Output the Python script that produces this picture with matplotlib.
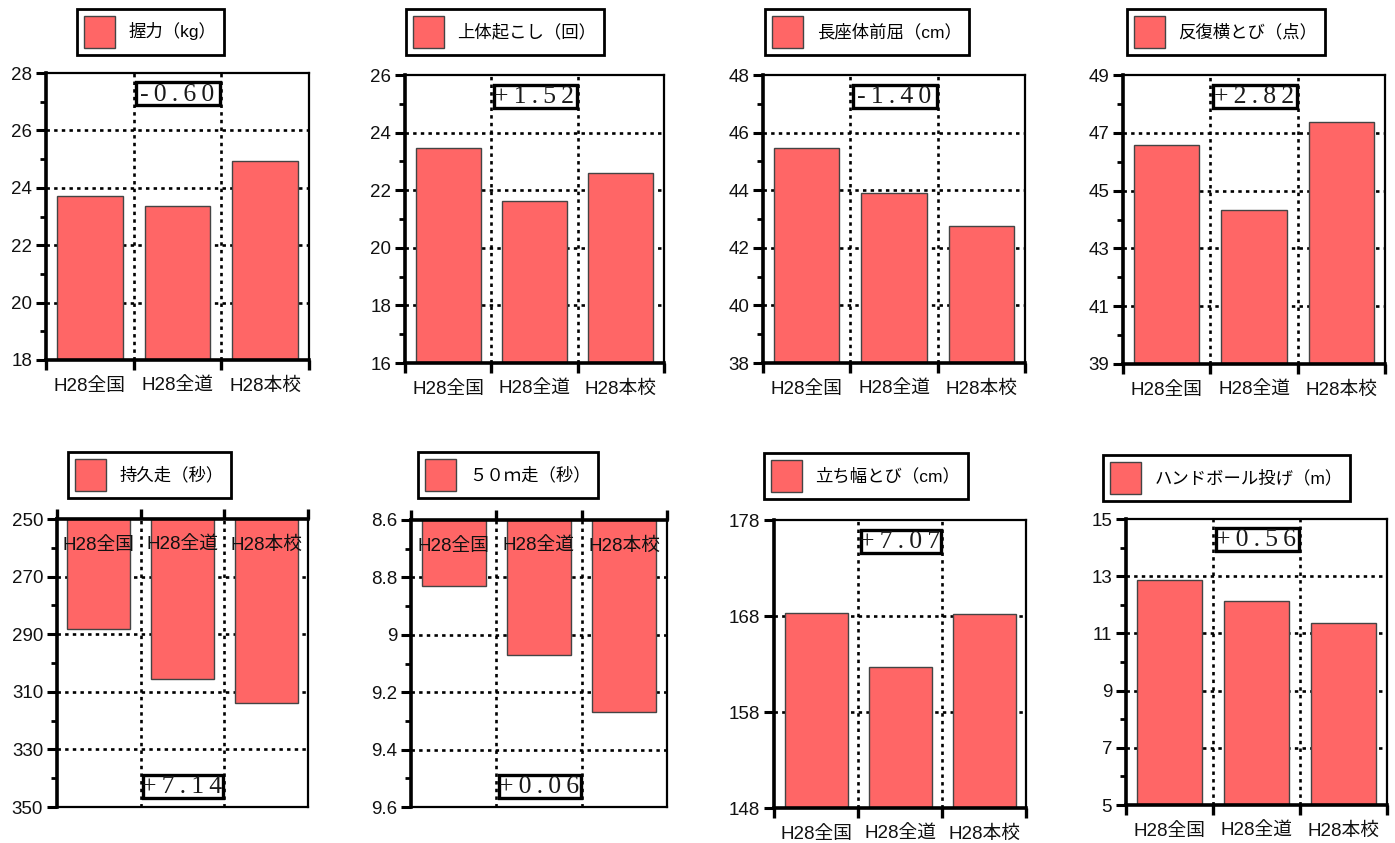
import matplotlib
matplotlib.use("Agg")
import matplotlib.pyplot as plt
import matplotlib.transforms as mtransforms
from matplotlib.patches import Rectangle, Patch
from matplotlib.ticker import FixedLocator, FuncFormatter
import numpy as np

plt.rcParams['font.family'] = ['Liberation Sans', 'Noto Sans CJK JP', 'DejaVu Sans']

# --- data ---
categories = ['H28全国', 'H28全道', 'H28本校']

titles = ['握力（kg）', '上体起こし（回）', '長座体前屈（cm）', '反復横とび（点）',
          '持久走（秒）', '５０ｍ走（秒）', '立ち幅とび（cm）', 'ハンドボール投げ（m）']

grip = [23.72, 23.38, 24.92]
situp = [23.48, 21.64, 22.61]
sitreach = [45.45, 43.92, 42.75]
sidestep = [46.59, 44.33, 47.39]
endurance = [288.3, 305.7, 314.0]
dash50 = [8.83, 9.07, 9.27]
jump = [168.27, 162.72, 168.17]
handball = [12.86, 12.13, 11.36]

diffs = ['-0.60', '+1.52', '-1.40', '+2.82', '+7.14', '+0.06', '+7.07', '+0.56']

y_ranges = [(18, 28), (16, 26), (38, 48), (39, 49), (250, 350), (8.6, 9.6), (148, 178), (5, 15)]
y_steps = [2, 2, 2, 2, 20, 0.2, 10, 2]
y_minor = [1, 1, 1, 1, 10, 0.1, None, 1]
inverted = [False, False, False, False, True, True, False, False]

series = [grip, situp, sitreach, sidestep, endurance, dash50, jump, handball]

# --- layout (pixels) ---
W, H = 1395, 843
axes_px = [(46, 309, 73, 360), (405, 664, 75, 363), (763, 1025, 75, 363), (1123, 1385, 75, 364),
           (57, 308, 519, 807), (411, 667, 520, 807), (774, 1026, 520, 808), (1126, 1387, 519, 805)]
legend_px = [(77, 9), (406, 9), (765, 9), (1127, 9),
             (68, 452), (418, 452), (764, 453), (1103, 455)]

bar_color = '#FF6666'
bar_edge = '#444444'

fig = plt.figure(figsize=(W / 100, H / 100), dpi=100)

for k in range(8):
    l, r, t, b = axes_px[k]
    ax = fig.add_axes([l / W, 1 - b / H, (r - l) / W, (b - t) / H])
    x = np.arange(len(categories))
    vals = series[k]
    lo, hi = y_ranges[k]
    inv = inverted[k]

    ax.bar(x, vals, width=0.75, color=bar_color, edgecolor=bar_edge, linewidth=1, zorder=2)
    ax.set_xlim(-0.5, len(categories) - 0.5)
    if inv:
        ax.set_ylim(hi, lo)
    else:
        ax.set_ylim(lo, hi)

    majors = np.round(np.arange(lo, hi + y_steps[k] / 2, y_steps[k]), 4)
    ax.yaxis.set_major_locator(FixedLocator(majors))
    if y_minor[k]:
        ax.yaxis.set_minor_locator(FixedLocator(np.round(np.arange(lo, hi, y_minor[k]), 4)))
    ax.yaxis.set_major_formatter(FuncFormatter(lambda v, p: f'{round(v, 3):g}'))
    ax.tick_params(axis='y', which='major', direction='out', length=7, width=2.2,
                   labelsize=13.5, pad=3, labelcolor='#111111')
    ax.tick_params(axis='y', which='minor', direction='out', length=4.5, width=2)

    bounds = np.arange(-0.5, len(categories), 1.0)
    ax.set_xticks(bounds)
    ax.tick_params(axis='x', which='major', direction='out', length=7, width=2.4,
                   labelbottom=False, labeltop=False)
    if inv:
        ax.xaxis.set_ticks_position('top')
        ax.tick_params(axis='x', labeltop=False)

    # dotted grid
    for yv in majors[1:-1]:
        ax.axhline(yv, color='black', lw=1.9, ls=(0, (1.3, 1.6)), zorder=1)
    for xv in bounds[1:-1]:
        ax.axvline(xv, color='black', lw=1.9, ls=(0, (1.3, 1.6)), zorder=1)

    # spines
    thick = ['left', 'top'] if inv else ['left', 'bottom']
    for side, sp in ax.spines.items():
        sp.set_linewidth(2.6 if side in thick else 1.6)
        sp.set_zorder(3)

    blend = mtransforms.blended_transform_factory(ax.transData, ax.transAxes)

    # category labels
    for i, cat in enumerate(categories):
        ax.annotate(cat, xy=(i, 1 if inv else 0), xycoords=blend, xytext=(0, -13),
                    textcoords='offset points', ha='center', va='top', fontsize=13.5,
                    color='#111111', zorder=5)

    # difference box
    y0 = 0.03 if inv else 0.887
    ax.add_patch(Rectangle((0.53, y0), 0.96, 0.08, transform=blend, facecolor='white',
                           edgecolor='black', lw=2.4, zorder=4, clip_on=False))
    ax.text(1.0, y0 + 0.038, '\u2009'.join(diffs[k]), transform=blend, ha='center',
            va='center', fontsize=18.5, family=['Liberation Serif', 'DejaVu Serif'],
            color='#1a1a1a', zorder=5)

    # legend
    lx, ly = legend_px[k]
    leg = ax.legend(handles=[Patch(facecolor=bar_color, edgecolor=bar_edge, label=titles[k])],
                    loc='upper left', bbox_to_anchor=(lx / W, 1 - ly / H),
                    bbox_transform=fig.transFigure, borderaxespad=0, fancybox=False,
                    framealpha=1, edgecolor='black', borderpad=0.42, handlelength=1.75,
                    handleheight=2.4, handletextpad=0.8, fontsize=12.5)
    leg.get_frame().set_linewidth(2)

fig.savefig('out.png', dpi=100)
